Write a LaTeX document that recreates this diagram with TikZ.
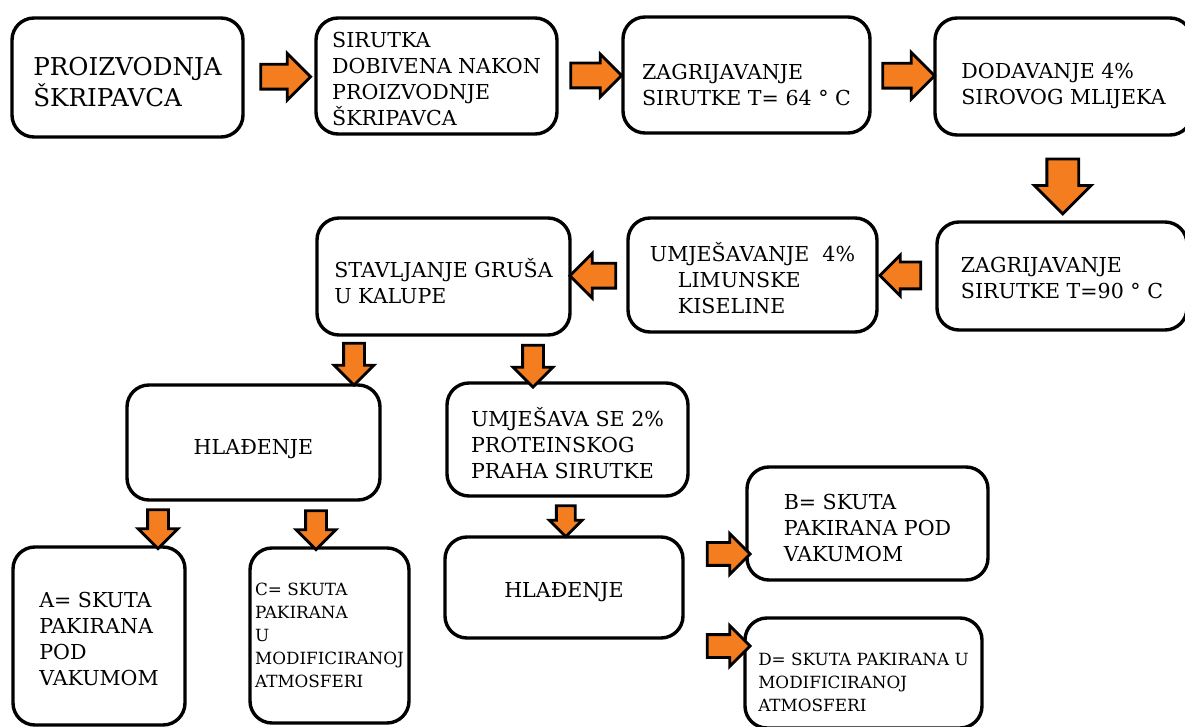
\documentclass[tikz,border=0pt]{standalone}
\usepackage{fontspec}
\setmainfont{DejaVu Serif}
\usetikzlibrary{shapes.arrows,positioning,calc}
\definecolor{arrorange}{RGB}{244,125,32}
\tikzset{
    every node/.style={color=black},
    stepbox/.style={rectangle, draw=black, line width=1.7pt, rounded corners=11pt,
        inner sep=0pt, align=left, font=\fontsize{10.3}{13}\selectfont},
    smallbox/.style={stepbox, font=\fontsize{8.4}{11.5}\selectfont},
    boxsize/.style 2 args={minimum width=#1pt, minimum height=#2pt},
    fatarrow/.style n args={3}{single arrow, draw=black, fill=arrorange, line width=1.4pt,
        inner xsep=0pt, minimum width=0pt, minimum height=#1, inner ysep=#2,
        single arrow head extend=#3}
}
% strut that pushes the text block down a little
\newcommand{\dropby}[1]{\rule{0pt}{#1}}

\begin{document}
\begin{tikzpicture}[x=0.5pt, y=-0.5pt]
    \useasboundingbox (0,0) rectangle (1185,727);

    % Top row
    \node[stepbox, boxsize={115.5}{59.5}, font=\fontsize{12.3}{15.5}\selectfont] (proizvodnja) at (127.5,77.5)
        {\dropby{14pt}PROIZVODNJA\\ŠKRIPAVCA};
    \node[stepbox, boxsize={120.5}{58}] (sirutka) at (436.5,76)
        {\dropby{10.5pt}SIRUTKA\\DOBIVENA NAKON\\PROIZVODNJE\\ŠKRIPAVCA};
    \node[stepbox, boxsize={123.5}{58}] (zagrij64) at (746.5,75)
        {\dropby{17.5pt}ZAGRIJAVANJE\\SIRUTKE T= 64 ° C};
    \node[stepbox, boxsize={128.5}{58.5}] (dodavanje) at (1063.5,76.5)
        {\dropby{17.5pt}DODAVANJE 4\%\\SIROVOG MLIJEKA};

    % Second row (right to left)
    \node[stepbox, boxsize={125}{54}] (zagrij90) at (1062,276)
        {\dropby{10pt}ZAGRIJAVANJE\\SIRUTKE T=90 ° C};
    \node[stepbox, boxsize={124.5}{57}] (limunska) at (752.5,275)
        {\dropby{12.5pt}UMJEŠAVANJE\ \ 4\%\\\hspace*{14pt}LIMUNSKE\\\hspace*{14pt}KISELINE};
    \node[stepbox, boxsize={126.5}{58.5}] (kalupi) at (443.5,276.5)
        {\dropby{14pt}STAVLJANJE GRUŠA\\U KALUPE};

    % Third row
    \node[stepbox, boxsize={126.5}{57.5}] (hladenjeA) at (253.5,442.5) {\dropby{14.5pt}HLAĐENJE};
    \node[stepbox, boxsize={120.5}{56.5}] (protein) at (567.5,439.5)
        {\dropby{13.5pt}UMJEŠAVA SE 2\%\\PROTEINSKOG\\PRAHA SIRUTKE};
    \node[stepbox, boxsize={119}{50.5}] (hladenjeB) at (564,587.5) {\dropby{12.5pt}HLAĐENJE};

    % Products
    \node[stepbox, boxsize={86}{89}] (skutaA) at (99,636)
        {\dropby{10.5pt}A= SKUTA\\PAKIRANA\\POD\\VAKUMOM};
    \node[smallbox, boxsize={79.5}{87.5}] (skutaC) at (329.5,635.5)
        {C= SKUTA\\PAKIRANA\\U\\MODIFICIRANOJ\\ATMOSFERI};
    \node[stepbox, boxsize={120.5}{56.5}] (skutaB) at (867.5,523.5)
        {\dropby{12pt}B= SKUTA\\PAKIRANA POD\\VAKUMOM};
    \node[smallbox, boxsize={118.5}{55}] (skutaD) at (863.5,673)
        {\dropby{16pt}D= SKUTA PAKIRANA U\\MODIFICIRANOJ\\ATMOSFERI};

    % Block arrows
    \node[fatarrow={25pt}{5.5pt}{5.5pt}] (a1) at ($(proizvodnja.east)!0.5!(sirutka.west)$) {};
    \node[fatarrow={25.5pt}{5.5pt}{4.5pt}] (a2) at ($(sirutka.east)!0.5!(zagrij64.west)$) {};
    \node[fatarrow={26pt}{5.5pt}{5.5pt}] (a3) at ($(zagrij64.east)!0.5!(dodavanje.west)$) {};
    \node[fatarrow={27.5pt}{7.25pt}{6.25pt}, rotate=-90] (a4)
        at ($(dodavanje.south)!0.5!(zagrij90.north)$) {};
    \node[fatarrow={20.5pt}{6pt}{3.5pt}, rotate=180] (a5)
        at ($(zagrij90.west)!0.5!(limunska.east)$) {};
    \node[fatarrow={23pt}{5.5pt}{5pt}, rotate=180] (a6)
        at ($(limunska.west)!0.5!(kalupi.east)$) {};
    \node[fatarrow={21pt}{4.5pt}{4.75pt}, rotate=-90] (a7) at (354,359) {};
    \node[fatarrow={21pt}{4.5pt}{4.75pt}, rotate=-90] (a8) at (533,361) {};
    \node[fatarrow={19.5pt}{4.5pt}{4.75pt}, rotate=-90] (a9) at (158,524) {};
    \node[fatarrow={19.5pt}{4.5pt}{4.75pt}, rotate=-90] (a10) at (316,525) {};
    \node[fatarrow={15.5pt}{4pt}{3.5pt}, rotate=-90] (a11)
        at ($(protein.south)!0.5!(hladenjeB.north)$) {};
    \node[fatarrow={21.5pt}{5pt}{4.5pt}] (a12) at (723,554) {};
    \node[fatarrow={21.5pt}{5pt}{4.5pt}] (a13) at (723,646) {};

\end{tikzpicture}
\end{document}
